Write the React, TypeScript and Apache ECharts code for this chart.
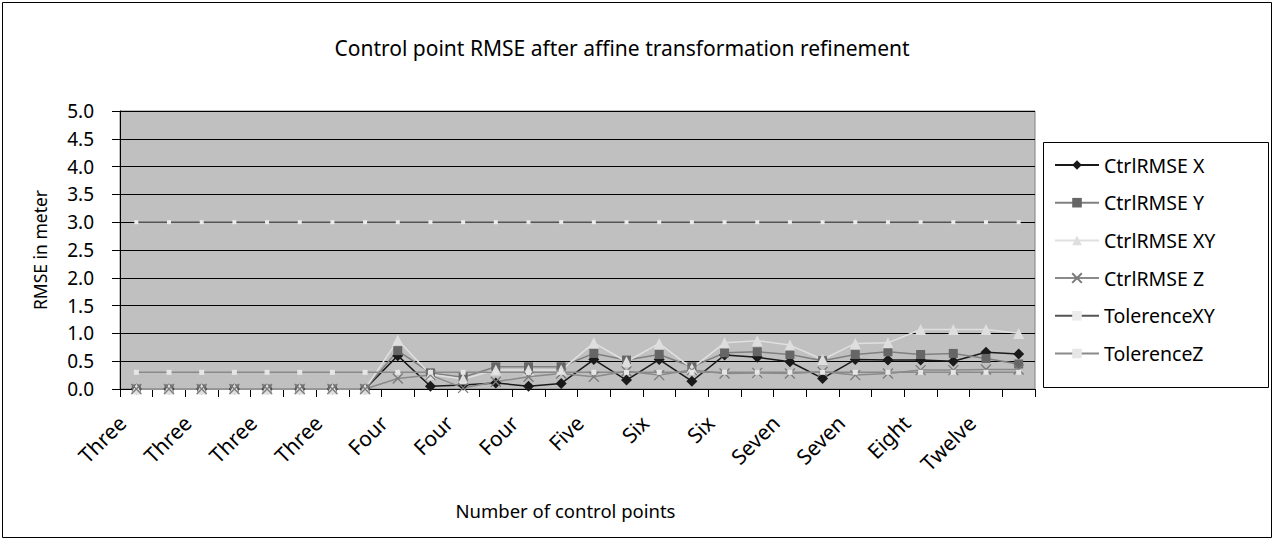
import React, { useEffect, useRef } from "react";
import * as echarts from "echarts";

const categories = [
  "Three", "Three", "Three", "Three", "Three", "Three", "Three", "Three",
  "Four", "Four", "Four", "Four", "Four", "Four",
  "Five", "Five",
  "Six", "Six", "Six", "Six",
  "Seven", "Seven", "Seven", "Seven",
  "Eight", "Eight",
  "Twelve", "Twelve",
];

const ctrlX = [0, 0, 0, 0, 0, 0, 0, 0, 0.6, 0.05, 0.07, 0.11, 0.05, 0.1, 0.53, 0.16, 0.53, 0.14, 0.61, 0.57, 0.49, 0.19, 0.53, 0.52, 0.52, 0.5, 0.66, 0.63];
const ctrlY = [0, 0, 0, 0, 0, 0, 0, 0, 0.69, 0.29, 0.21, 0.4, 0.4, 0.4, 0.64, 0.52, 0.62, 0.4, 0.65, 0.67, 0.62, 0.51, 0.62, 0.67, 0.62, 0.64, 0.55, 0.45];
const ctrlXY = [0, 0, 0, 0, 0, 0, 0, 0, 0.88, 0.26, 0.18, 0.34, 0.34, 0.34, 0.83, 0.49, 0.82, 0.37, 0.83, 0.87, 0.79, 0.53, 0.82, 0.83, 1.07, 1.07, 1.07, 1.0];
const ctrlZ = [0, 0, 0, 0, 0, 0, 0, 0, 0.19, 0.25, 0.02, 0.13, 0.22, 0.28, 0.22, 0.32, 0.25, 0.34, 0.28, 0.29, 0.28, 0.31, 0.25, 0.28, 0.34, 0.34, 0.35, 0.35];
const tolXY = [3, 3, 3, 3, 3, 3, 3, 3, 3, 3, 3, 3, 3, 3, 3, 3, 3, 3, 3, 3, 3, 3, 3, 3, 3, 3, 3, 3];
const tolZ = [0.3, 0.3, 0.3, 0.3, 0.3, 0.3, 0.3, 0.3, 0.3, 0.3, 0.3, 0.3, 0.3, 0.3, 0.3, 0.3, 0.3, 0.3, 0.3, 0.3, 0.3, 0.3, 0.3, 0.3, 0.3, 0.3, 0.3, 0.3];

const FONT = "Noto Sans";

export default function App() {
  const ref = useRef<HTMLDivElement>(null);
  useEffect(() => {
    if (!ref.current) return;
    const chart = echarts.init(ref.current, null, { renderer: "svg" });
    const xMark = "path://M0,0L10,10M10,0L0,10";
    chart.setOption({
      animation: false,
      backgroundColor: "#ffffff",
      title: {
        text: "Control point RMSE after affine transformation refinement",
        left: 617,
        top: 32,
        textAlign: "center",
        textStyle: { fontFamily: FONT, fontSize: 21, fontWeight: "normal", color: "#000" },
      },
      graphic: [
        { type: "rect", shape: { x: 2.5, y: 2.5, width: 1269, height: 535 }, style: { fill: "none", stroke: "#000", lineWidth: 1 }, z: 100 },
        { type: "rect", shape: { x: 1043.5, y: 142.5, width: 225, height: 245 }, style: { fill: "none", stroke: "#000", lineWidth: 1 }, z: 100 },
      ],
      legend: {
        orient: "vertical",
        left: 1043,
        top: 142,
        padding: [13, 10, 10, 11],
        itemWidth: 44,
        itemHeight: 12,
        itemGap: 17.7,
        textStyle: { fontFamily: FONT, fontSize: 19.5, color: "#000", lineHeight: 20 },
        data: ["CtrlRMSE X", "CtrlRMSE Y", "CtrlRMSE XY", "CtrlRMSE Z", "TolerenceXY", "TolerenceZ"],
      },
      grid: {
        left: 120,
        top: 111,
        right: 240,
        bottom: 154,
        show: true,
        backgroundColor: "#c0c0c0",
        borderColor: "#808080",
        borderWidth: 1,
      },
      xAxis: {
        type: "category",
        data: categories,
        boundaryGap: true,
        name: "Number of control points",
        nameLocation: "middle",
        nameGap: 112,
        nameMoveOverlap: false,
        nameTextStyle: { fontFamily: FONT, fontSize: 18.5, color: "#000", padding: [0, 24, 0, 0] },
        axisLine: { lineStyle: { color: "#000", width: 1 } },
        axisTick: { show: true, interval: 0, length: 8, lineStyle: { color: "#000" } },
        axisLabel: {
          interval: 1,
          rotate: 45,
          margin: 16,
          padding: [0, 20, 0, 0],
          fontFamily: FONT,
          fontSize: 21,
          color: "#000",
        },
        splitLine: { show: false },
      },
      yAxis: {
        type: "value",
        min: 0,
        max: 5,
        interval: 0.5,
        name: "RMSE in meter",
        nameLocation: "middle",
        nameGap: 71,
        nameMoveOverlap: false,
        nameRotate: 90,
        nameTextStyle: { fontFamily: FONT, fontSize: 17.5, color: "#000" },
        axisLine: { show: true, lineStyle: { color: "#000", width: 1 } },
        axisTick: { show: true, length: 8, lineStyle: { color: "#000" } },
        axisLabel: {
          margin: 26,
          fontFamily: FONT,
          fontSize: 19,
          color: "#000",
          formatter: (v: number) => v.toFixed(1),
        },
        splitLine: { show: true, lineStyle: { color: "#000", width: 1 } },
      },
      series: [
        {
          name: "CtrlRMSE X",
          type: "line",
          data: ctrlX,
          symbol: "diamond",
          symbolSize: 11,
          lineStyle: { color: "#1a1a1a", width: 1.5 },
          itemStyle: { color: "#1a1a1a" },
        },
        {
          name: "CtrlRMSE Y",
          type: "line",
          data: ctrlY,
          symbol: "rect",
          symbolSize: 9,
          lineStyle: { color: "#808080", width: 1.5 },
          itemStyle: { color: "#666666" },
        },
        {
          name: "CtrlRMSE XY",
          type: "line",
          data: ctrlXY,
          symbol: "triangle",
          symbolSize: 11,
          lineStyle: { color: "#e0e0e0", width: 1.5 },
          itemStyle: { color: "#dedede" },
        },
        {
          name: "CtrlRMSE Z",
          type: "line",
          data: ctrlZ,
          symbol: xMark,
          symbolSize: 10,
          lineStyle: { color: "#8a8a8a", width: 1.5 },
          itemStyle: { color: "none", borderColor: "#7a7a7a", borderWidth: 1.3 },
        },
        {
          name: "TolerenceXY",
          type: "line",
          data: tolXY,
          symbol: "rect",
          symbolSize: 4,
          lineStyle: { color: "#555", width: 1.5 },
          itemStyle: { color: "#ececec" },
        },
        {
          name: "TolerenceZ",
          type: "line",
          data: tolZ,
          symbol: "rect",
          symbolSize: 5,
          lineStyle: { color: "#8a8a8a", width: 1.5 },
          itemStyle: { color: "#e6e6e6" },
        },
      ],
    });
    return () => chart.dispose();
  }, []);
  return (
    <div
      ref={ref}
      style={{ position: "fixed", left: 0, top: 0, width: 1275, height: 543 }}
    />
  );
}
